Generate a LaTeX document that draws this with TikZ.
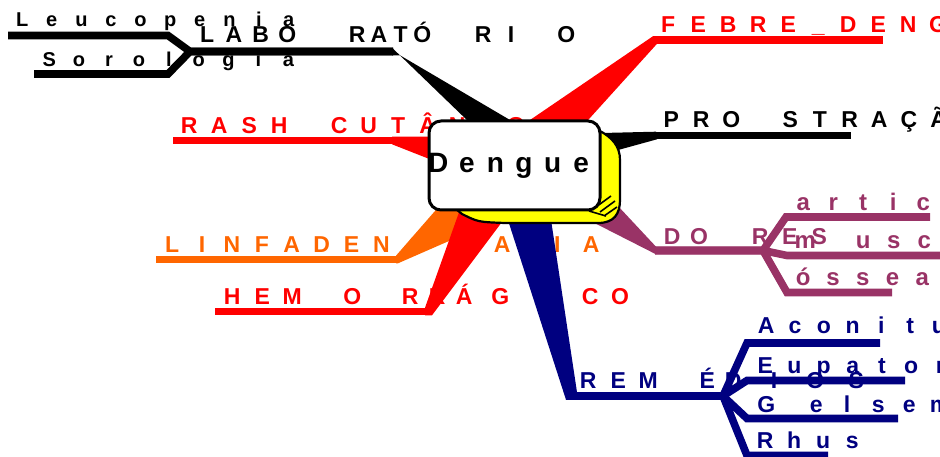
\documentclass[tikz,border=0pt]{standalone}
\usepackage{fontspec}
\setmainfont{Liberation Sans}
\definecolor{mmred}{HTML}{FF0000}
\definecolor{mmorange}{HTML}{FF6600}
\definecolor{mmplum}{HTML}{993366}
\definecolor{mmnavy}{HTML}{000080}
\definecolor{mmyellow}{HTML}{FFFF00}
% every character of a label sits in a cell of fixed width (#1 pt)
\ExplSyntaxOn
\NewDocumentCommand \spc { m m }
  { \str_map_inline:nn {#2} { \makebox[#1pt][c]{##1} } }
\ExplSyntaxOff
% \chunk[style]{name}{centre of first char}{baseline}{cell width}{text}
\newcommand\chunk[6][]{\node[lbl,#1] (#2) at ({#3-#5/2},#4) {\spc{#5}{#6}};}
\begin{document}
\begin{tikzpicture}[x=1pt,y=-1pt,
  lbl/.style={anchor=base west, inner sep=0pt, font=\bfseries\fontsize{23}{26}\selectfont},
  small/.style={font=\bfseries\fontsize{20}{23}\selectfont},
  sub/.style={font=\bfseries\fontsize{24}{27}\selectfont},
  branch/.style={line width=7.6pt, miter limit=20, line cap=butt}]
\useasboundingbox (0,0) rectangle (940,457);
\clip (0,0) rectangle (940,457);

% ---------- labels ----------
\chunk[small]{leu}{22}{27}{29.6}{Leucopenia}
\chunk[small]{soro}{49}{67}{29.9}{Sorologia}
\chunk{lab1}{207}{43}{26.7}{LABO}
\chunk{lab2}{357}{43}{21.7}{RATÓ}
\chunk{lab3}{483}{43}{28}{RI}
\chunk{lab4}{566}{43}{30}{O}
\chunk{pro1}{671}{128}{30}{PRO}
\chunk{pro2}{790}{128}{29.7}{STRAÇÃO}

\chunk[mmred]{feb}{668}{33}{30}{FEBRE_DENGUE}
\chunk[mmred]{rash1}{189}{134}{30}{RASH}
\chunk[mmred]{rash2}{339}{134}{29.5}{CUTÂNEO}
\chunk[mmred]{hem1}{232}{304}{30}{HEM}
\chunk[mmred]{hem2}{352}{304}{30}{O}
\chunk[mmred]{hem3}{410}{304}{27}{RRÁ}
\chunk[mmred]{hem4}{500}{304}{30}{G}
\chunk[mmred]{hem5}{542}{304}{30}{I}
\chunk[mmred]{hem6}{590}{304}{30}{CO}

\chunk[mmorange]{lin1}{172}{253}{29.9}{LINFADEN}
\chunk[mmorange]{lin2}{417}{253}{20}{O}
\chunk[mmorange]{lin2b}{457}{253}{7}{MEG}
\chunk[mmorange]{lin3}{502}{253}{28.5}{AL}
\chunk[mmorange]{lin4}{557}{253}{34}{IA}

\chunk[mmplum]{dor1}{672}{244}{27}{DO}
\chunk[mmplum]{dor2}{760}{244}{29.5}{RES}
\chunk[mmplum,sub]{art}{803}{211}{30}{articular}
\chunk[mmplum,sub]{mus1}{805}{248}{30}{m}
\chunk[mmplum,sub]{mus2}{863}{248}{30.5}{uscular}
\chunk[mmplum,sub]{oss}{803}{285}{29.8}{óssea}

\chunk[mmnavy]{rem1}{588}{388}{30}{REM}
\chunk[mmnavy]{rem2}{707}{388}{30}{É}
\chunk[mmnavy]{rem3}{733}{388}{41}{DIOS}
\chunk[mmnavy]{aco}{766}{333}{28.8}{Aconitum}
\chunk[mmnavy]{eup}{765}{373}{29.2}{Eupatorium}
\chunk[mmnavy]{gel1}{766}{412}{30}{G}
\chunk[mmnavy]{gel2}{816}{412}{31}{elsemium}
\chunk[mmnavy]{rhus}{765}{448}{29}{Rhus}

% ---------- branch lines ----------
\coordinate (labB) at (393,51.5);  \coordinate (labF) at (190,51.5);
\coordinate (leuK) at (168,35.5);  \coordinate (leuE) at (8,35.5);
\coordinate (soroK) at (168,74);   \coordinate (soroE) at (34,74);
\draw[branch] (labB) -- (labF) -- (leuK) -- (leuE);
\draw[branch] (labB) -- (labF) -- (soroK) -- (soroE);

\coordinate (febB) at (653,40);    \coordinate (febE) at (883,40);
\draw[branch,mmred] (febB) -- (febE);
\coordinate (proB) at (655,135.5); \coordinate (proE) at (851,135.5);
\draw[branch] (proB) -- (proE);
\coordinate (rashB) at (393,140.5); \coordinate (rashE) at (173,140.5);
\draw[branch,mmred] (rashB) -- (rashE);
\coordinate (linB) at (397,259.5); \coordinate (linE) at (156,259.5);
\draw[branch,mmorange] (linB) -- (linE);
\coordinate (hemB) at (428,311.5); \coordinate (hemE) at (215,311.5);
\draw[branch,mmred] (hemB) -- (hemE);

\coordinate (dorB) at (655,250.5); \coordinate (dorF) at (763,250.5);
\coordinate (artK) at (786,217);   \coordinate (artE) at (930,217);
\coordinate (musK) at (787,255.5); \coordinate (musE) at (945,255.5);
\coordinate (ossK) at (787,292.5); \coordinate (ossE) at (892,292.5);
\draw[branch,mmplum] (dorB) -- (dorF) -- (artK) -- (artE);
\draw[branch,mmplum] (dorB) -- (dorF) -- (musK) -- (musE);
\draw[branch,mmplum] (dorB) -- (dorF) -- (ossK) -- (ossE);

\coordinate (remB) at (567,396);   \coordinate (remF) at (723,396);
\coordinate (acoK) at (747,343);   \coordinate (acoE) at (880,343);
\coordinate (eupK) at (747,380.5); \coordinate (eupE) at (905,380.5);
\coordinate (gelK) at (747,418.5); \coordinate (gelE) at (898,418.5);
\coordinate (rhuK) at (747,455.5); \coordinate (rhuE) at (828,455.5);
\draw[branch,mmnavy] (remB) -- (remF) -- (acoK) -- (acoE);
\draw[branch,mmnavy] (remB) -- (remF) -- (eupK) -- (eupE);
\draw[branch,mmnavy] (remB) -- (remF) -- (gelK) -- (gelE);
\draw[branch,mmnavy] (remB) -- (remF) -- (rhuK) -- (rhuE);

% ---------- tapered roots running into the central topic ----------
\fill[black] (392,47.7) -- (498,150) -- (561,150) -- (400,55.3) -- (392,55.3) -- cycle;
\fill[mmred] (653,36.2) -- (486,150) -- (561,150) -- (657,43.8) -- cycle;
\fill[black] (656,131.7) -- (560,134) -- (560,166) -- (657,139.3) -- cycle;
\fill[mmred] (392,136.7) -- (470,136.7) -- (470,175) -- (392,144.3) -- cycle;
\fill[mmorange] (396,255.7) -- (462,180) -- (510,200) -- (449,241) -- (398,263.3) -- (396,263.3) -- cycle;
\fill[mmred] (425,307.7) -- (467,190) -- (526,190) -- (432,315.3) -- (425,315.3) -- cycle;
\fill[mmplum] (656,246.7) -- (575,160) -- (565,208) -- (656,254.3) -- cycle;
\fill[mmnavy] (495,180) -- (566,399.8) -- (570,399.8) -- (577,392.2) -- (545,180) -- cycle;

% ---------- central topic ----------
\filldraw[fill=mmyellow, draw=black, line width=2.2pt, line join=round]
  (445,200) -- (462,214) .. controls (478,222) .. (505,223) -- (598,223)
  .. controls (614,223) and (620,214) .. (620,200) -- (620,160)
  .. controls (620,146) and (612,137) .. (598,130) -- cycle;
\draw[line width=1.6pt] (596,207) -- (611,196) (600,212) -- (615,201) (604,216) -- (617,207) (589,211) -- (606,216);
\node[draw, line width=3pt, fill=white, rounded corners=12pt, minimum width=171pt,
      minimum height=89pt, inner sep=0pt] (hub) at (514.5,165.5) {};
\chunk[font=\bfseries\fontsize{28}{32}\selectfont]{dtext}{438}{173}{28.6}{Dengue}
\end{tikzpicture}
\end{document}
